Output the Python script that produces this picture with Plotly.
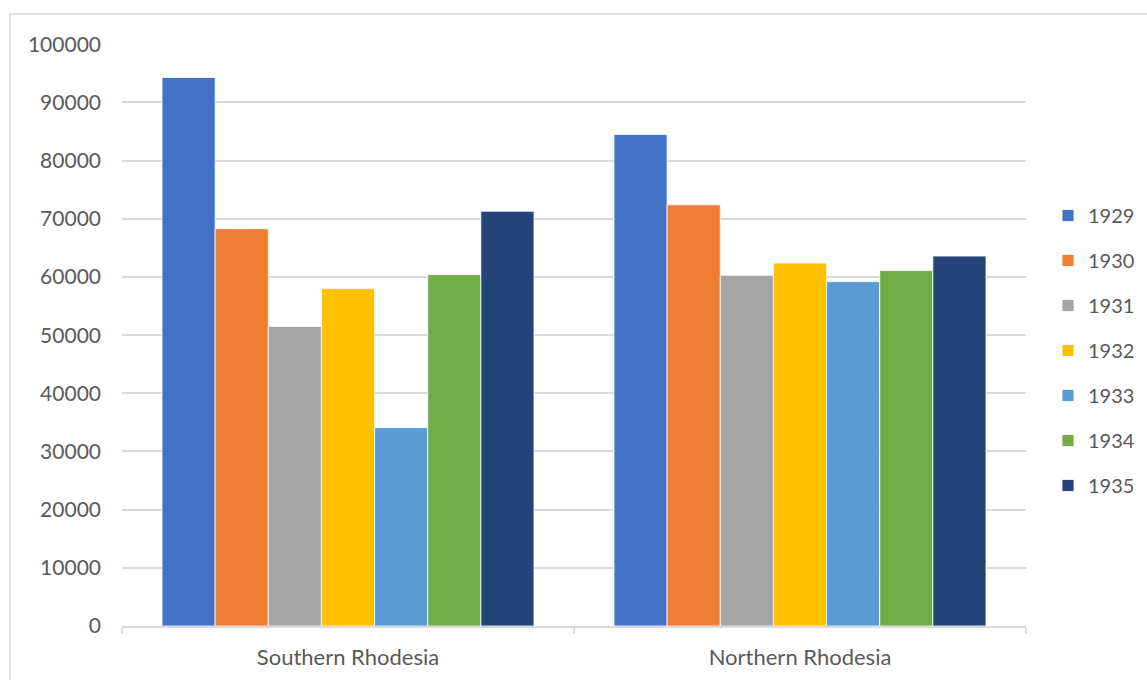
import plotly.graph_objects as go

categories = ["Southern Rhodesia", "Northern Rhodesia"]
years = ["1929", "1930", "1931", "1932", "1933", "1934", "1935"]
values = {
    "1929": [94300, 84500],
    "1930": [68300, 72400],
    "1931": [51500, 60300],
    "1932": [58000, 62400],
    "1933": [34100, 59200],
    "1934": [60400, 61100],
    "1935": [71300, 63600],
}
colors = ["#4472C4", "#ED7D31", "#A5A5A5", "#FFC000", "#5B9BD5", "#70AD47", "#264478"]

FONT = "Lato"
TXT = "#595959"
GRID = "#D9D9D9"

fig = go.Figure()
for i, y in enumerate(years):
    fig.add_trace(go.Bar(
        name=y, x=categories, y=values[y],
        marker=dict(color=colors[i], line=dict(color="white", width=0.8)),
        legendgroup=y,
    ))

W, H = 1147, 680
L, R, T, B = 122, 0, 44, 54
pw, ph = W - L - R, H - T - B
plot_right = 1026
dom_end = (plot_right - L) / pw

fig.update_layout(
    width=W, height=H,
    margin=dict(l=L, r=R, t=T, b=B),
    paper_bgcolor="white", plot_bgcolor="white",
    barmode="group", bargap=0.177, bargroupgap=0,
    font=dict(family=FONT, size=20, color=TXT),
    showlegend=True,
    legend=dict(
        x=(1048 - L) / pw, xanchor="left",
        y=(H - B - 350.5) / ph, yanchor="middle",
        font=dict(family=FONT, size=20, color=TXT),
        tracegroupgap=16, bgcolor="rgba(0,0,0,0)",
        itemwidth=30,
    ),
    shapes=[dict(
        type="rect", xref="paper", yref="paper",
        x0=(10 - L) / pw, x1=1.2,
        y0=-0.3, y1=(H - B - 14) / ph,
        line=dict(color=GRID, width=1.5), fillcolor="rgba(0,0,0,0)", layer="below",
    )],
)
fig.update_yaxes(
    range=[0, 100050], dtick=10000, tickformat="d",
    showgrid=True, gridcolor=GRID, gridwidth=1.5,
    zeroline=False, showline=False, ticks="",
    ticklabelstandoff=20,
    tickfont=dict(family=FONT, size=21, color=TXT),
)
fig.update_xaxes(
    domain=[0, dom_end],
    showline=True, linecolor=GRID, linewidth=1.5,
    ticks="outside", tickson="boundaries", ticklen=6, tickcolor=GRID, tickwidth=1.5,
    showgrid=False,
    ticklabelstandoff=11,
    tickfont=dict(family=FONT, size=22, color=TXT),
)

fig.write_html("out.html")
